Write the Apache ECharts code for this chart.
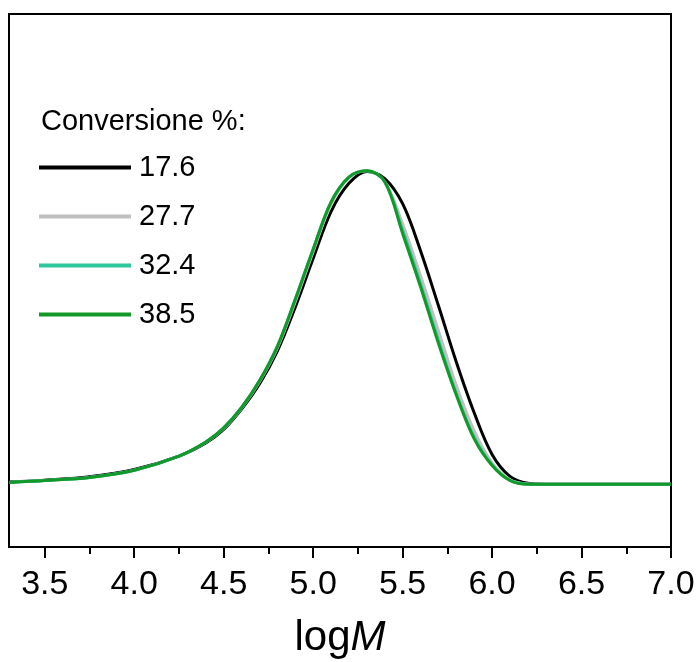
<!DOCTYPE html>
<html>
<head>
<meta charset="utf-8">
<script src="https://cdn.jsdelivr.net/npm/echarts@6/dist/echarts.min.js"></script>
<style>
  html, body { margin: 0; padding: 0; background: #fff; }
  #chart { width: 698px; height: 662px; }
</style>
</head>
<body>
<div id="chart"></div>
<script>
// GPC molecular weight distributions at increasing conversion
const logM = [3.3, 3.5, 3.75, 4.0, 4.25, 4.4, 4.5, 4.6, 4.7, 4.8, 4.9, 5.0, 5.1, 5.2, 5.3, 5.4, 5.5, 5.6, 5.7, 5.8, 5.9, 6.0, 6.1, 6.2, 6.3, 6.5, 7.0];

const conv176 = [0.007, 0.013, 0.024, 0.047, 0.090, 0.132, 0.175, 0.240, 0.320, 0.425, 0.565, 0.720, 0.870, 0.960, 0.998, 0.975, 0.895, 0.745, 0.570, 0.390, 0.228, 0.095, 0.025, 0.003, 0, 0, 0];
const conv277 = [0.006, 0.012, 0.022, 0.045, 0.090, 0.134, 0.178, 0.243, 0.327, 0.435, 0.582, 0.742, 0.893, 0.978, 1.000, 0.965, 0.830, 0.665, 0.490, 0.315, 0.170, 0.068, 0.014, 0.001, 0, 0, 0];
const conv324 = [0.006, 0.012, 0.022, 0.045, 0.090, 0.135, 0.180, 0.245, 0.330, 0.440, 0.590, 0.750, 0.900, 0.980, 1.000, 0.965, 0.810, 0.640, 0.460, 0.290, 0.150, 0.062, 0.013, 0.001, 0, 0, 0];
const conv385 = [0.006, 0.012, 0.022, 0.045, 0.090, 0.135, 0.180, 0.245, 0.330, 0.440, 0.590, 0.750, 0.900, 0.980, 1.000, 0.965, 0.800, 0.630, 0.450, 0.285, 0.145, 0.060, 0.012, 0.000, 0, 0, 0];

const seriesNames = ['17.6', '27.7', '32.4', '38.5'];
const seriesColors = ['#000000', '#c0c0c0', '#2ec89c', '#12992a'];
const seriesValues = [conv176, conv277, conv324, conv385];

const majorTicks = [3.5, 4.0, 4.5, 5.0, 5.5, 6.0, 6.5, 7.0];
const minorTicks = [3.75, 4.25, 4.75, 5.25, 5.75, 6.25, 6.75];

const FONT = 'Arial, "Liberation Sans", sans-serif';

const chart = echarts.init(document.getElementById('chart'), null, { renderer: 'canvas' });

const series = seriesNames.map((name, k) => ({
  name: name,
  type: 'line',
  xAxisIndex: 0,
  smooth: 0.35,
  showSymbol: false,
  lineStyle: { color: seriesColors[k], width: 3 },
  itemStyle: { color: seriesColors[k] },
  data: logM.map((x, i) => [x, seriesValues[k][i]]),
  z: 2 + k
}));

chart.setOption({
  animation: false,
  backgroundColor: '#ffffff',
  title: {
    text: 'Conversione %:',
    left: 41,
    top: 107,
    padding: 0,
    textStyle: { fontFamily: FONT, fontSize: 29, fontWeight: 'normal', color: '#000', lineHeight: 29 }
  },
  legend: {
    orient: 'vertical',
    left: 39,
    top: 153,
    padding: 0,
    itemWidth: 92,
    itemHeight: 4,
    itemGap: 20,
    icon: 'rect',
    data: seriesNames,
    textStyle: { fontFamily: FONT, fontSize: 29, color: '#000', lineHeight: 29, padding: [0, 0, 0, 3] }
  },
  grid: {
    left: 9, right: 27, top: 14, bottom: 115,
    containLabel: false,
    outerBoundsMode: 'none',
    show: true,
    borderColor: '#000',
    borderWidth: 2,
    backgroundColor: 'transparent'
  },
  xAxis: [
    {
      type: 'value',
      min: 3.3,
      max: 7.0,
      position: 'bottom',
      axisLine: { show: true, onZero: false, lineStyle: { color: '#000', width: 2 } },
      axisTick: { show: true, customValues: majorTicks, length: 11, lineStyle: { color: '#000', width: 2 } },
      axisLabel: {
        customValues: majorTicks,
        margin: 21,
        fontFamily: FONT,
        fontSize: 34,
        color: '#000',
        formatter: v => v.toFixed(1)
      },
      splitLine: { show: false },
      name: '{a|log}{b|M}',
      nameLocation: 'middle',
      nameGap: 70,
      nameTextStyle: {
        rich: {
          a: { fontFamily: FONT, fontSize: 42, color: '#000' },
          b: { fontFamily: FONT, fontSize: 42, color: '#000', fontStyle: 'italic' }
        }
      }
    },
    {
      type: 'value',
      min: 3.3,
      max: 7.0,
      position: 'bottom',
      axisLine: { show: false, onZero: false },
      axisTick: { show: true, customValues: minorTicks, length: 7, lineStyle: { color: '#000', width: 2 } },
      axisLabel: { show: false },
      splitLine: { show: false }
    }
  ],
  yAxis: {
    type: 'value',
    min: -0.2,
    max: 1.5,
    axisLine: { show: false },
    axisTick: { show: false },
    axisLabel: { show: false },
    splitLine: { show: false }
  },
  series: series
});
</script>
</body>
</html>
